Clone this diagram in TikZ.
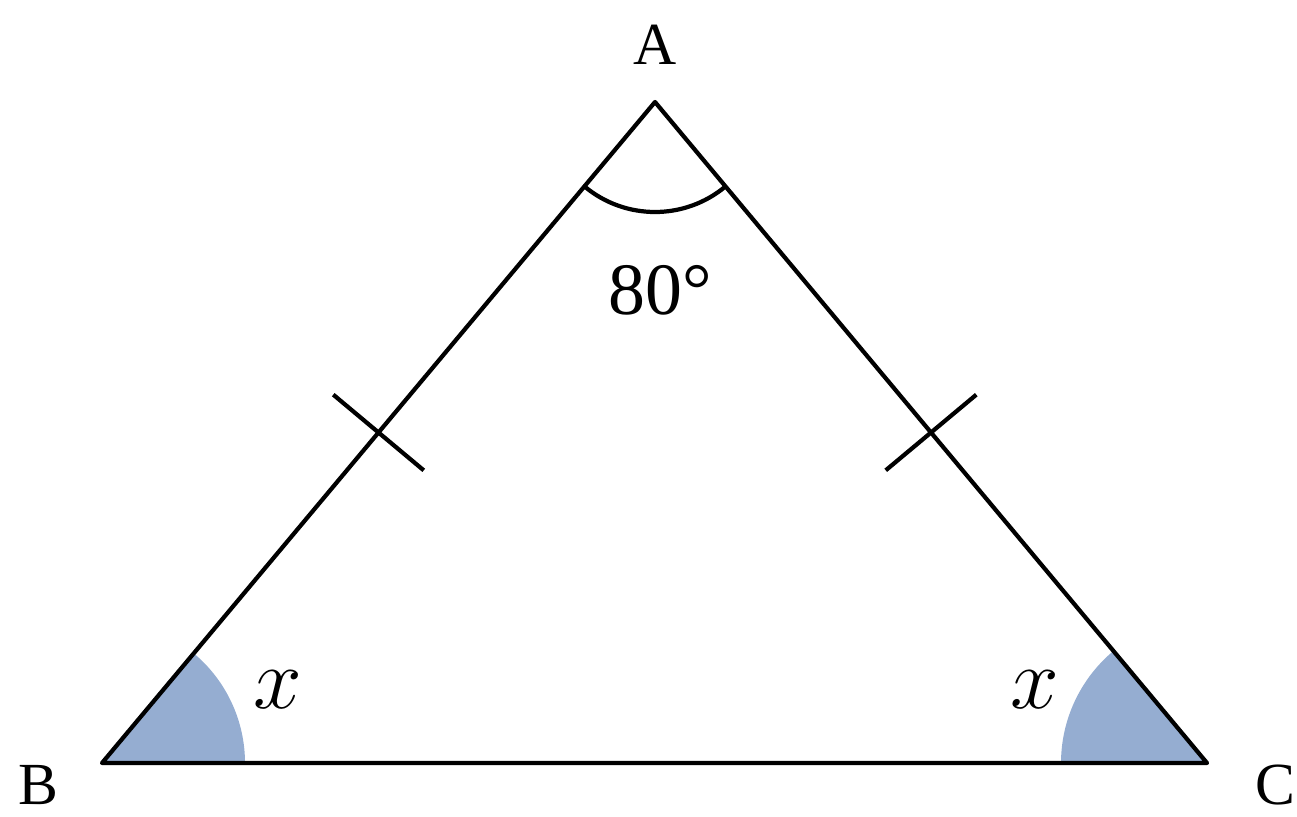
\documentclass[tikz,border=0pt]{standalone}
\usepackage{fontspec}
\setmainfont{Liberation Serif}
\usetikzlibrary{positioning, calc}
\definecolor{angleblue}{RGB}{149,173,209}
\tikzset{
side/.style={draw, line width=1.2pt, line join=round},
tick/.style={draw, line width=1.2pt},
anglefill/.style={fill=angleblue},
vlabel/.style={font=\fontsize{17}{20}\selectfont},
}

\begin{document}
\begin{tikzpicture}
    \useasboundingbox (0,0) rectangle (12.97,8.16);

    %vertices
    \coordinate (A) at (6.55,7.14);
    \coordinate (B) at (1.02,0.53);
    \coordinate (C) at (12.07,0.53);

    %base angles
    \fill[anglefill] (B) -- ++(0:1.43) arc[start angle=0, end angle=50.1, radius=1.43] -- cycle;
    \fill[anglefill] (C) -- ++(180:1.46) arc[start angle=180, end angle=129.9, radius=1.46] -- cycle;

    %sides
    \draw[side] (A) -- (B) -- (C) -- cycle;

    %top angle
    \draw[line width=1.2pt] (A) ++(230.1:1.1) arc[start angle=230.1, end angle=309.9, radius=1.1];

    %equal sides
    \coordinate (m1) at ($(A)!0.5!(B)$);
    \coordinate (m2) at ($(A)!0.5!(C)$);
    \draw[tick] ($(m1)!0.59cm!90:(A)$) -- ($(m1)!0.59cm!-90:(A)$);
    \draw[tick] ($(m2)!0.59cm!90:(A)$) -- ($(m2)!0.59cm!-90:(A)$);

    %labels
    \node[vlabel] (lA) at (6.55,7.71) {A};
    \node[vlabel] (lB) at (0.38,0.31) {B};
    \node[vlabel] (lC) at (12.75,0.31) {C};
    \node[font=\fontsize{21}{24}\selectfont] (top) at (6.60,5.26) {80°};
    \node[font=\fontsize{24}{28}\selectfont] (xB) at (2.78,1.26) {$x$};
    \node[font=\fontsize{24}{28}\selectfont] (xC) at (10.35,1.26) {$x$};
\end{tikzpicture}
\end{document}
